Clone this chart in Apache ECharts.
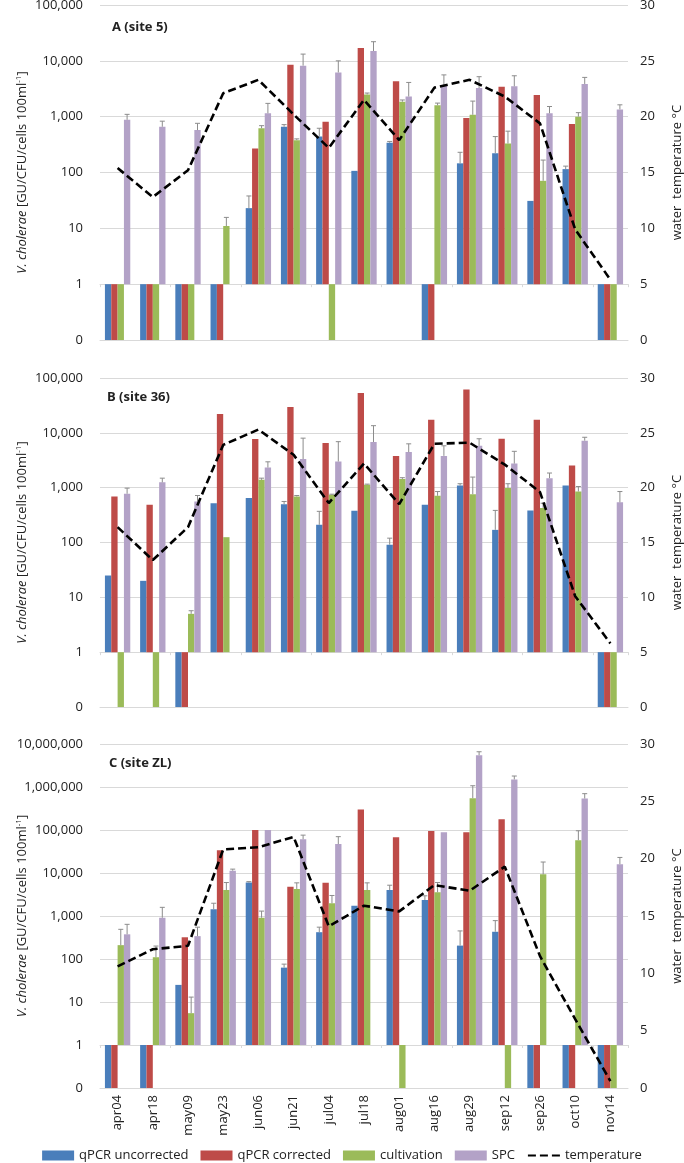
<!DOCTYPE html>
<html>
<head>
<meta charset="utf-8">
<script src="https://cdn.jsdelivr.net/npm/echarts@6/dist/echarts.min.js"></script>
<style>
html, body { margin: 0; padding: 0; background: #fff; }
#chart { width: 684px; height: 1163px; }
</style>
</head>
<body>
<div id="chart"></div>
<script>
// sampling dates (same for all three sites)
var dates = ['apr04', 'apr18', 'may09', 'may23', 'jun06', 'jun21', 'jul04', 'jul18',
             'aug01', 'aug16', 'aug29', 'sep12', 'sep26', 'oct10', 'nov14'];

// 0 = measured zero (drawn down to the "0" tick), null = not measured
// *Err = upper end of the error bar

// A (site 5)
var siteA_uncorr    = [0, 0, 0, 0, 23, 660, 440, 107, 340, 0, 146, 222, 31, 115, 0];
var siteA_uncorrErr = [null, null, null, null, 38, 720, 620, null, 360, null, 230, 440, null, 130, null];
var siteA_corr      = [0, 0, 0, 0, 270, 8500, 810, 17000, 4300, 0, 950, 3450, 2450, 740, 0];
var siteA_cult      = [0, 0, 0, 11, 620, 380, 0, 2500, 1850, 1600, 1080, 330, 71, 1000, 0];
var siteA_cultErr   = [null, null, null, 15.7, 690, 400, null, 2650, 1990, 1750, 1900, 550, 167, 1180, null];
var siteA_spc       = [880, 660, 575, null, 1150, 8200, 6200, 15000, 2300, 3700, 3250, 3500, 1150, 3850, 1350];
var siteA_spcErr    = [1100, 830, 760, null, 1730, 13200, 10000, 22000, 4100, 5600, 5200, 5400, 1520, 5050, 1630];
var siteA_temp      = [15.4, 12.8, 15.2, 22.1, 23.3, 20.2, 17.2, 21.5, 17.9, 22.6, 23.3, 21.8, 19.4, 9.9, 5.4];

// B (site 36)
var siteB_uncorr    = [25, 20, 0, 520, 650, 500, 210, 380, 91, 490, 1090, 170, 385, 1100, 0];
var siteB_uncorrErr = [null, null, null, null, null, 560, 370, null, 120, null, 1180, 385, null, null, null];
var siteB_corr      = [690, 490, 0, 22000, 7700, 29500, 6500, 53000, 3800, 17400, 62000, 7800, 17400, 2540, 0];
var siteB_cult      = [0, 0, 5.0, 125, 1390, 690, 740, 1130, 1440, 710, 760, 990, 425, 850, 0];
var siteB_cultErr   = [null, null, 5.7, null, 1490, 720, 760, 1160, 1520, 850, 1560, 1180, 520, 1050, null];
var siteB_spc       = [775, 1250, 560, null, 2330, 3330, 3000, 6800, 4450, 3800, 5800, 2750, 1490, 7200, 540];
var siteB_spcErr    = [980, 1490, 720, null, 2960, 8000, 6900, 13500, 6300, 5800, 7800, 4600, 1850, 8300, 850];
var siteB_temp      = [16.4, 13.4, 16.4, 23.9, 25.3, 23.0, 18.6, 22.2, 18.5, 24.0, 24.1, 22.1, 19.6, 10.1, 5.8];

// C (site ZL)
var siteC_uncorr    = [0, 0, 25, 1440, 6000, 63, 420, 1740, 4000, 2350, 205, 430, 0, 0, 0];
var siteC_uncorrErr = [null, null, null, 1980, 6300, 76, 550, null, 5200, 2950, 450, 780, null, null, null];
var siteC_corr      = [0, 0, 320, 34000, 100000, 4800, 5900, 300000, 68000, 95000, 89000, 178000, 0, 0, 0];
var siteC_cult      = [210, 110, 5.5, 4000, 910, 4250, 1980, 4000, 0, 3550, 550000, 0, 9300, 58000, 0];
var siteC_cultErr   = [490, 200, 13, 6000, 1300, 5900, 3000, 5900, null, 6000, 1070000, null, 18000, 96000, null];
var siteC_spc       = [375, 910, 340, 11300, 100000, 61000, 47000, null, null, 89000, 5500000, 1500000, null, 540000, 16000];
var siteC_spcErr    = [640, 1590, 550, 12300, null, 76000, 70000, null, null, null, 6600000, 1800000, null, 700000, 23000];
var siteC_temp      = [10.6, 12.1, 12.4, 20.8, 21.0, 21.9, 14.1, 15.9, 15.4, 17.7, 17.2, 19.3, 11.5, 6.0, 0.6];

var seriesNames = ['qPCR uncorrected', 'qPCR corrected', 'cultivation', 'SPC'];
var seriesColors = ['#4A7EBB', '#BE4B48', '#9BBB59', '#B3A2C7'];

var LOG_ZERO = 0.1;     // where a zero count is drawn on the log axis
var CAT_GAP = 0.28;
var FONT = '"Open Sans", "Noto Sans", sans-serif';
var TXT = '#222';
var GRID_COLOR = '#D9D9D9';

function toPlot(v) {
    if (v === null) return null;
    return v === 0 ? LOG_ZERO : v;
}

function fmtLog(v) {
    if (v < 0.5) return '0';
    return String(Math.round(v)).replace(/\B(?=(\d{3})+(?!\d))/g, ',');
}

function renderErr(params, api) {
    var cat = api.value(0), hi = api.value(1), v = api.value(2), k = api.value(3);
    var band = api.size([1, 1])[0];
    var groupW = band * (1 - CAT_GAP);
    var bw = groupW / 4;
    var base = api.coord([cat, v]);
    var top = api.coord([cat, hi]);
    var cx = base[0] - groupW / 2 + bw * (k + 0.5);
    var st = { stroke: '#8C8C8C', lineWidth: 1 };
    return {
        type: 'group',
        children: [
            { type: 'line', shape: { x1: cx, y1: base[1], x2: cx, y2: top[1] }, style: st },
            { type: 'line', shape: { x1: cx - 2.5, y1: top[1], x2: cx + 2.5, y2: top[1] }, style: st }
        ]
    };
}

var panels = [
    { title: 'A (site 5)', top: 5, height: 335, max: 1e5, decades: 6,
      vals: [siteA_uncorr, siteA_corr, siteA_cult, siteA_spc],
      errs: [siteA_uncorrErr, null, siteA_cultErr, siteA_spcErr], temp: siteA_temp, titleTop: 21, titleLeft: 112 },
    { title: 'B (site 36)', top: 378, height: 329, max: 1e5, decades: 6,
      vals: [siteB_uncorr, siteB_corr, siteB_cult, siteB_spc],
      errs: [siteB_uncorrErr, null, siteB_cultErr, siteB_spcErr], temp: siteB_temp, titleTop: 391, titleLeft: 107 },
    { title: 'C (site ZL)', top: 744, height: 344, max: 1e7, decades: 8,
      vals: [siteC_uncorr, siteC_corr, siteC_cult, siteC_spc],
      errs: [siteC_uncorrErr, null, siteC_cultErr, siteC_spcErr], temp: siteC_temp, titleTop: 757, titleLeft: 109 }
];

var grids = [], xAxes = [], yAxes = [], series = [], titles = [];

panels.forEach(function (p, gi) {
    var last = gi === panels.length - 1;
    grids.push({ left: 100, width: 528, top: p.top, height: p.height, outerBoundsMode: 'none' });
    titles.push({
        text: p.title, left: p.titleLeft, top: p.titleTop, padding: 0,
        textStyle: { fontFamily: FONT, fontSize: 13, fontWeight: 'bold', color: TXT }
    });
    // main category axis at the bottom ("0" line)
    xAxes.push({
        type: 'category', gridIndex: gi, data: dates, position: 'bottom',
        axisLine: { onZero: false, lineStyle: { color: GRID_COLOR } },
        axisTick: { show: false },
        axisLabel: {
            show: last, rotate: 90, margin: 7, fontFamily: FONT, fontSize: 13, color: TXT
        }
    });
    // baseline at the value 1, with the category ticks
    xAxes.push({
        type: 'category', gridIndex: gi, data: dates, position: 'bottom',
        offset: -p.height / p.decades,
        axisLine: { onZero: false, lineStyle: { color: GRID_COLOR } },
        axisTick: { show: true, length: 3, lineStyle: { color: GRID_COLOR } },
        axisLabel: { show: false }
    });
    yAxes.push({
        type: 'log', logBase: 10, gridIndex: gi, min: LOG_ZERO, max: p.max, position: 'left',
        name: '{i|V. cholerae} [GU/CFU/cells 100ml{s|-1}]',
        nameLocation: 'middle', nameRotate: 90, nameGap: 70, nameMoveOverlap: false,
        nameTextStyle: {
            fontFamily: FONT, fontSize: 13, color: TXT,
            rich: {
                i: { fontFamily: FONT, fontSize: 13, fontStyle: 'italic', color: TXT },
                s: { fontFamily: FONT, fontSize: 8, color: TXT, verticalAlign: 'top', padding: [0, 0, 7, 0] }
            }
        },
        axisLine: { show: false }, axisTick: { show: false },
        axisLabel: { formatter: fmtLog, margin: 17, fontFamily: FONT, fontSize: 13, color: TXT },
        splitLine: { show: true, lineStyle: { color: GRID_COLOR } }
    });
    yAxes.push({
        type: 'value', gridIndex: gi, min: 0, max: 30, interval: 5, position: 'right',
        name: 'water  temperature °C',
        nameLocation: 'middle', nameRotate: 90, nameGap: 43, nameMoveOverlap: false,
        nameTextStyle: { fontFamily: FONT, fontSize: 13, color: TXT },
        axisLine: { show: false }, axisTick: { show: false },
        axisLabel: { margin: 12, fontFamily: FONT, fontSize: 13, color: TXT },
        splitLine: { show: false }
    });

    p.vals.forEach(function (arr, k) {
        series.push({
            name: seriesNames[k], type: 'bar',
            xAxisIndex: gi * 2, yAxisIndex: gi * 2,
            barGap: '0%', barCategoryGap: (CAT_GAP * 100) + '%',
            itemStyle: { color: seriesColors[k] },
            data: arr.map(toPlot)
        });
    });

    var errData = [];
    p.errs.forEach(function (errArr, k) {
        if (!errArr) return;
        errArr.forEach(function (hi, i) {
            if (hi !== null && p.vals[k][i] !== null) {
                errData.push([i, hi, p.vals[k][i], k]);
            }
        });
    });
    series.push({
        type: 'custom', xAxisIndex: gi * 2, yAxisIndex: gi * 2,
        renderItem: renderErr, encode: { x: 0, y: 1 }, silent: true, z: 3,
        data: errData
    });

    series.push({
        name: 'temperature', type: 'line',
        xAxisIndex: gi * 2, yAxisIndex: gi * 2 + 1,
        symbol: 'none', z: 5,
        lineStyle: { color: '#000', width: 2.6, type: [8, 4] },
        itemStyle: { color: '#000' },
        data: p.temp
    });
});

var legendData = seriesNames.map(function (n) { return { name: n, icon: 'rect' }; });
legendData.push({ name: 'temperature', itemStyle: { opacity: 0 } });

var chart = echarts.init(document.getElementById('chart'), null, { renderer: 'canvas' });
chart.setOption({
    animation: false,
    backgroundColor: '#fff',
    title: titles,
    legend: {
        data: legendData,
        left: 'center', top: 1144,
        itemWidth: 32, itemHeight: 10, itemGap: 12,
        textStyle: { fontFamily: FONT, fontSize: 13, color: TXT }
    },
    grid: grids,
    xAxis: xAxes,
    yAxis: yAxes,
    series: series
});
</script>
</body>
</html>
